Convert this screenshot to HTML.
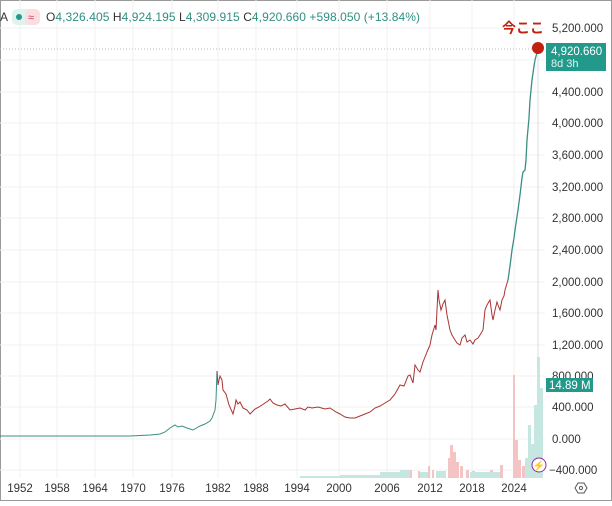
<!DOCTYPE html>
<html><head><meta charset="utf-8"><style>
body{margin:0;width:612px;height:501px;overflow:hidden;background:#fff;font-family:"Liberation Sans","Noto Sans CJK JP",sans-serif}
</style></head><body>
<svg width="612" height="501" xmlns="http://www.w3.org/2000/svg" font-family="Liberation Sans, Noto Sans CJK JP, sans-serif">
<rect x="0.5" y="0.5" width="611" height="500" fill="#fff" stroke="#9a9a9a"/>
<g stroke="#f0f0f0" stroke-width="1">
<line x1="20" y1="0" x2="20" y2="478"/><line x1="57" y1="0" x2="57" y2="478"/><line x1="95" y1="0" x2="95" y2="478"/><line x1="133" y1="0" x2="133" y2="478"/><line x1="172" y1="0" x2="172" y2="478"/><line x1="218" y1="0" x2="218" y2="478"/><line x1="256" y1="0" x2="256" y2="478"/><line x1="297" y1="0" x2="297" y2="478"/><line x1="339" y1="0" x2="339" y2="478"/><line x1="387" y1="0" x2="387" y2="478"/><line x1="430" y1="0" x2="430" y2="478"/><line x1="472" y1="0" x2="472" y2="478"/><line x1="514" y1="0" x2="514" y2="478"/>
<line x1="0" y1="28" x2="545" y2="28"/><line x1="0" y1="60" x2="545" y2="60"/><line x1="0" y1="92" x2="545" y2="92"/><line x1="0" y1="123" x2="545" y2="123"/><line x1="0" y1="155" x2="545" y2="155"/><line x1="0" y1="187" x2="545" y2="187"/><line x1="0" y1="218" x2="545" y2="218"/><line x1="0" y1="250" x2="545" y2="250"/><line x1="0" y1="282" x2="545" y2="282"/><line x1="0" y1="313" x2="545" y2="313"/><line x1="0" y1="345" x2="545" y2="345"/><line x1="0" y1="376" x2="545" y2="376"/><line x1="0" y1="407" x2="545" y2="407"/><line x1="0" y1="439" x2="545" y2="439"/><line x1="0" y1="470" x2="545" y2="470"/>
</g>
<line x1="0" y1="49" x2="540" y2="49" stroke="#bbb" stroke-dasharray="1,2"/>
<line x1="538" y1="49" x2="538" y2="478" stroke="#ddd"/>
<g fill="#f4c4c4">
<path d="M395 478V474h3v4zM410 478V470h2v8zM418 478V471h2v7zM428 478V466h2v12zM432 478V470h2v8zM448 478V458h3v20zM450 478V445h3v33zM453 478V452h3v26zM456 478V462h3v16zM460 478V466h3v12zM466 478V470h3v8zM472 478V471h3v7zM480 478V472h3v6zM490 478V470h3v8zM500 478V465h3v13zM513 478V375h2v103zM515 478V440h3v38zM518 478V460h3v18zM522 478V466h3v12z"/>
</g>
<g fill="#c6e6e2">
<path d="M300 478V476h40v2zM340 478V475h40v3zM380 478V472h20v6zM400 478V470h10v8zM420 478V472h8v6zM436 478V471h10v7zM470 478V472h30v6zM525 478V458h3v20zM528 478V425h3v53zM531 478V444h3v34zM534 478V405h3v73zM537 478V357h3v121zM540 478V388h3v90z"/>
</g>
<polyline fill="none" stroke="#3a8f85" stroke-width="1" points="0,436 130,436 150,435 160,434 165,432 170,428 175,425 178,427 182,426 187,428 193,430 200,426 205,424 210,421 212,418 215,410 216,400 217,371"/>
<polyline fill="none" stroke="#a33" stroke-width="1" points="217,371 218,385 219,380 220,376 222,380 223,390 226,394 229,405 233,414 235,406 236,400 238,404 240,402 243,408 247,410 250,414 253,411 255,409 259,407 262,405 265,403 268,401 270,399 273,403 277,405 281,406 285,404 290,410 295,409 300,408 305,410 308,407 312,408 318,407 325,409 330,408 336,412 340,414 345,417 350,418 355,418 360,416 365,414 370,412 375,408 380,406 385,403 390,400 395,394 400,385 404,386 408,376 410,375 413,383 415,365 418,370 420,372 423,362 425,357 427,352 430,345 432,335 435,325 436,330 438,290 439,300 441,310 443,304 445,300 447,315 450,330 452,335 455,340 457,343 460,345 462,338 465,335 467,342 470,340 473,344 475,340 478,338 480,335 483,330 485,310 487,305 490,300 492,315 493,320 495,310 497,302 498,305 500,310 502,300 504,296 505,290 508,280"/>
<polyline fill="none" stroke="#3a8f85" stroke-width="1.3" points="508,280 510,266 512,250 514,238 515,230 518,210 520,195 522,178 523,172 525,170 526,160 527,140 529,118 530,100 532,80 534,66 535,60 538,49"/>
<circle cx="538" cy="48" r="6" fill="#c0220f"/>
<text x="502" y="33" font-size="14" font-weight="bold" fill="#c0220f">今ここ</text>
<g font-size="11.5" fill="#333">
<text x="552" y="32">5,200.000</text><text x="552" y="96">4,400.000</text><text x="552" y="127">4,000.000</text><text x="552" y="159">3,600.000</text><text x="552" y="191">3,200.000</text><text x="552" y="222">2,800.000</text><text x="552" y="254">2,400.000</text><text x="552" y="286">2,000.000</text><text x="552" y="317">1,600.000</text><text x="552" y="349">1,200.000</text><text x="552" y="380">800.000</text><text x="552" y="411">400.000</text><text x="552" y="443">0.000</text><text x="549" y="474">−400.000</text>
</g>
<rect x="546" y="43" width="60" height="28" fill="#22998a"/>
<text x="551" y="55" font-size="11.5" fill="#fff">4,920.660</text>
<text x="551" y="67" font-size="11" fill="#e0f4f1">8d 3h</text>
<rect x="546" y="378" width="47" height="14" fill="#22998a"/>
<text x="549" y="389" font-size="11.5" fill="#fff">14.89 M</text>
<g font-size="11.5" fill="#333" text-anchor="middle">
<text x="20" y="492">1952</text><text x="57" y="492">1958</text><text x="95" y="492">1964</text><text x="133" y="492">1970</text><text x="172" y="492">1976</text><text x="218" y="492">1982</text><text x="256" y="492">1988</text><text x="297" y="492">1994</text><text x="339" y="492">2000</text><text x="387" y="492">2006</text><text x="430" y="492">2012</text><text x="472" y="492">2018</text><text x="514" y="492">2024</text>
</g>
<polygon points="575,488 578,483 584,483 587,488 584,493 578,493" fill="none" stroke="#555"/>
<circle cx="581" cy="488" r="1.6" fill="none" stroke="#555"/>
<circle cx="539" cy="465" r="7" fill="#fff" stroke="#8a2a9a"/>
<text x="539" y="469" font-size="10" fill="#8a2a9a" text-anchor="middle">⚡</text>
<text x="0" y="21" font-size="12" fill="#333">A</text>
<rect x="12" y="9" width="28" height="16" rx="5" fill="#e0f2ef"/>
<rect x="25" y="9" width="15" height="16" rx="5" fill="#fbdde2"/>
<circle cx="19" cy="17" r="3" fill="#22998a"/>
<text x="28" y="21" font-size="11" fill="#c04060">≈</text>
<text x="46" y="21" font-size="12" fill="#333" textLength="374">O<tspan fill="#2f8f83">4,326.405</tspan> H<tspan fill="#2f8f83">4,924.195</tspan> L<tspan fill="#2f8f83">4,309.915</tspan> C<tspan fill="#2f8f83">4,920.660</tspan> <tspan fill="#2f8f83">+598.050 (+13.84%)</tspan></text>
</svg>
</body></html>
